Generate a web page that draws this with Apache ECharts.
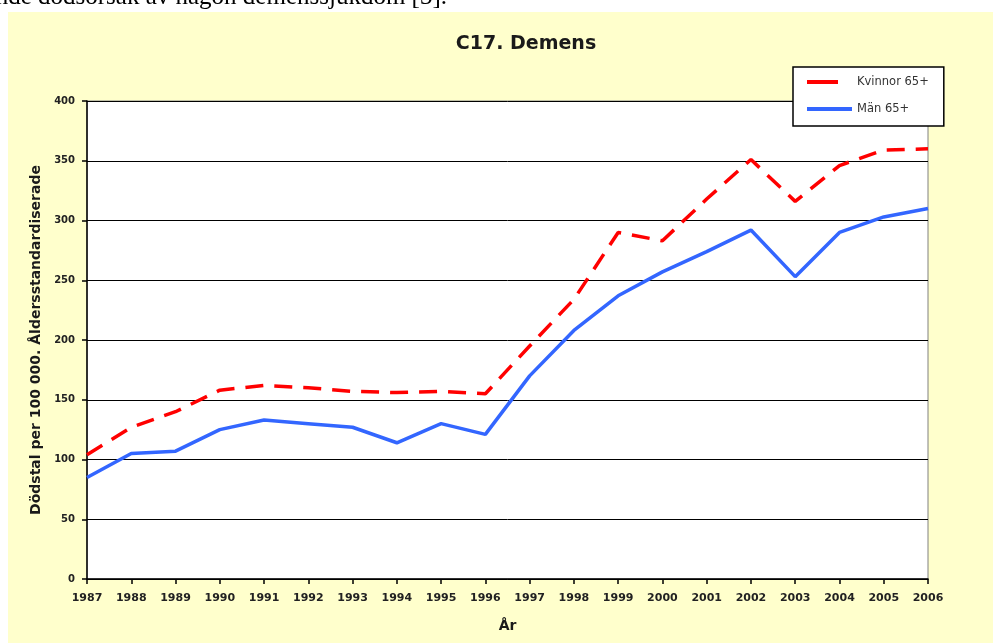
<!DOCTYPE html>
<html>
<head>
<meta charset="utf-8">
<script src="https://cdn.jsdelivr.net/npm/echarts@6/dist/echarts.min.js"></script>
<style>
  html, body { margin: 0; padding: 0; background: #ffffff; }
  #chart { width: 994px; height: 643px; }
</style>
</head>
<body>
<div id="chart"></div>
<script>
var years = ['1987','1988','1989','1990','1991','1992','1993','1994','1995','1996','1997','1998','1999','2000','2001','2002','2003','2004','2005','2006'];
var kvinnor = [104,127,140,158,162,160,157,156,157,155,195,234,290,283,318,351,316,346,359,360];
var man = [85,105,107,125,133,130,127,114,130,121,170,208,237,257,274,292,253,290,303,310];
var yTicks = {min: 0, max: 400, interval: 50};
var titleText = 'C17. Demens';
var yName = 'Dödstal per 100 000. Åldersstandardiserade';
var xName = 'År';
var seriesNames = ['Kvinnor 65+', 'Män 65+'];
var topText = 'underliggande dödsorsak av någon demenssjukdom [3].';

var chart = echarts.init(document.getElementById('chart'), null, {renderer: 'canvas'});
var font = 'DejaVu Sans';
chart.setOption({
  backgroundColor: '#ffffff',
  animation: false,
  graphic: [
    {
      type: 'text', z: -20, silent: true,
      style: {
        text: topText, x: 447, y: -3, align: 'right', verticalAlign: 'middle',
        font: '25px "Liberation Serif"', fill: '#000000'
      }
    },
    {
      type: 'rect', z: -10, silent: true,
      shape: {x: 8, y: 12, width: 985, height: 631},
      style: {fill: '#FFFFCC'}
    }
  ],
  title: {
    text: titleText,
    left: 526, top: 35, textAlign: 'center', padding: 0,
    textStyle: {fontFamily: font, fontSize: 19, fontWeight: 'bold', color: '#1a1a1a'}
  },
  legend: {
    orient: 'vertical',
    left: 793, top: 67,
    padding: [8, 15, 10, 14],
    itemGap: 13,
    itemWidth: 45, itemHeight: 4,
    backgroundColor: '#ffffff',
    borderColor: '#000000', borderWidth: 1.5,
    borderRadius: 0,
    textStyle: {fontFamily: font, fontSize: 11.5, color: '#333333', lineHeight: 14},
    data: [
      {name: seriesNames[0], icon: 'path://M0,0H31V4H0Z M45,0L45,4', itemStyle: {color: '#FF0000'}},
      {name: seriesNames[1], icon: 'rect', itemStyle: {color: '#3366FF'}}
    ]
  },
  grid: {
    left: 87, top: 101, width: 841, height: 478,
    show: true, backgroundColor: '#ffffff', borderColor: '#808080', borderWidth: 1
  },
  xAxis: {
    type: 'category', data: years, boundaryGap: false,
    name: xName, nameLocation: 'middle', nameGap: 40,
    nameTextStyle: {fontFamily: font, fontSize: 14, fontWeight: 'bold', color: '#1a1a1a'},
    axisLine: {lineStyle: {color: '#000000', width: 1.5}},
    axisTick: {show: true, length: 5, lineStyle: {color: '#000000', width: 1.5}},
    axisLabel: {interval: 0, margin: 14, fontFamily: font, fontSize: 11, fontWeight: 'bold', color: '#222222'},
    splitLine: {show: false}
  },
  yAxis: {
    type: 'value', min: yTicks.min, max: yTicks.max, interval: yTicks.interval,
    name: yName, nameLocation: 'middle', nameGap: 44,
    nameTextStyle: {fontFamily: font, fontSize: 14, fontWeight: 'bold', color: '#1a1a1a'},
    axisLine: {show: true, lineStyle: {color: '#000000', width: 1.5}},
    axisTick: {show: true, length: 5, lineStyle: {color: '#000000', width: 1.5}},
    axisLabel: {margin: 12, fontFamily: font, fontSize: 10, fontWeight: 'bold', color: '#222222'},
    splitLine: {show: true, lineStyle: {color: '#000000', width: 1}}
  },
  series: [
    {
      name: seriesNames[0], type: 'line', data: kvinnor,
      symbol: 'none', showSymbol: false, smooth: false, z: 3,
      itemStyle: {color: '#FF0000'},
      lineStyle: {color: '#FF0000', width: 3.5, type: [18, 11]}
    },
    {
      name: seriesNames[1], type: 'line', data: man,
      symbol: 'none', showSymbol: false, smooth: false, z: 2,
      itemStyle: {color: '#3366FF'},
      lineStyle: {color: '#3366FF', width: 3.5}
    }
  ]
});
</script>
</body>
</html>
